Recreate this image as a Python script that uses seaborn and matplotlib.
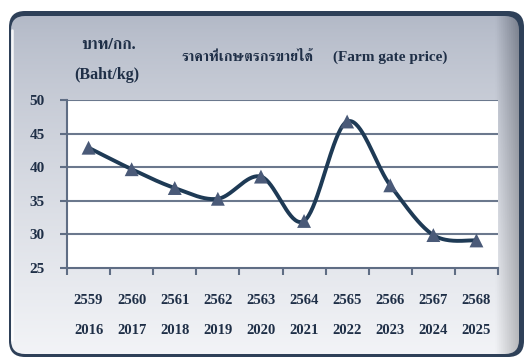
import numpy as np
import pandas as pd
import matplotlib
matplotlib.use("Agg")
import matplotlib.pyplot as plt
from matplotlib import font_manager, ft2font
from matplotlib.patches import FancyBboxPatch
import seaborn as sns

# Farm gate price, Baht per kg
years_be = ["2559", "2560", "2561", "2562", "2563", "2564", "2565", "2566", "2567", "2568"]
years_ce = ["2016", "2017", "2018", "2019", "2020", "2021", "2022", "2023", "2024", "2025"]
price = [42.9, 39.7, 36.9, 35.3, 38.6, 32.0, 46.8, 37.3, 29.9, 29.1]
y_ticks = [25, 30, 35, 40, 45, 50]

title_th = "ราคาที่เกษตรกรขายได้"
title_en = "(Farm gate price)"
unit_th = "บาท/กก."
unit_en = "(Baht/kg)"

df = pd.DataFrame({"idx": np.arange(len(price)), "price": price})

sns.set_theme(style="white")
plt.rcParams["font.family"] = ["Liberation Serif", "DejaVu Serif"]
plt.rcParams["font.weight"] = "bold"


def thai_family():
    # pick an installed family that covers the Thai block, serif-like first
    found = []
    for f in font_manager.fontManager.ttflist:
        try:
            cmap = ft2font.FT2Font(f.fname).get_charmap()
        except Exception:
            continue
        if 0x0E23 in cmap and 0x0E01 in cmap:
            found.append(f.name)
    for key in ("Serif", "Looped", "Noto Sans Thai"):
        for name in found:
            if key in name:
                return name
    return found[0] if found else "DejaVu Sans"


THAI = thai_family()
NAVY = "#1f2f47"

W, H = 526, 363
fig = plt.figure(figsize=(W / 100, H / 100), dpi=100, facecolor="white")

# framed panel behind the chart
bg = fig.add_axes([0, 0, 1, 1], zorder=-2)
bg.set_xlim(0, W)
bg.set_ylim(H, 0)
bg.axis("off")
outer = FancyBboxPatch((9, 11), 515, 346, boxstyle="round,pad=0,rounding_size=16",
                       fc="#2e4058", ec="none")
bg.add_patch(outer)
inner = FancyBboxPatch((11, 16), 508, 338, boxstyle="round,pad=0,rounding_size=14",
                       fc="none", ec="none")
bg.add_patch(inner)
rows = np.linspace(0, 1, 256)[:, None]
cols = np.linspace(0, 1, 256)[None, :]
top = np.array([0.70, 0.725, 0.78])
bot = np.array([0.95, 0.955, 0.968])
grad = top + (bot - top) * (rows ** 0.8)[..., None]
grad = np.broadcast_to(grad, (256, 256, 3)).copy()
# darker shading towards the right rim
shade = np.clip((cols - 0.955) / 0.045, 0, 1)[..., None] * 0.22
grad = np.clip(grad - shade, 0, 1)
img = bg.imshow(grad, extent=(11, 519, 354, 16), aspect="auto", zorder=1)
img.set_clip_path(inner)
# light rim on the left edge
bg.plot([12, 12], [30, 340], color="white", lw=1.8, alpha=0.85, zorder=2)

# chart area
x0, x1, yb, yt = 67, 498, 268, 100
ax = fig.add_axes([x0 / W, 1 - yb / H, (x1 - x0) / W, (yb - yt) / H])
ax.set_facecolor("white")

# smoothed path through the data points (Catmull-Rom)
xs = df["idx"].to_numpy(float)
ys = df["price"].to_numpy(float)
px = np.concatenate([[xs[0]], xs, [xs[-1]]])
py = np.concatenate([[ys[0]], ys, [ys[-1]]])
cx, cy = [], []
t = np.linspace(0, 1, 40)
for i in range(1, len(px) - 2):
    for P, out in ((px, cx), (py, cy)):
        p0, p1, p2, p3 = P[i - 1], P[i], P[i + 1], P[i + 2]
        out.extend(0.5 * ((2 * p1) + (-p0 + p2) * t + (2 * p0 - 5 * p1 + 4 * p2 - p3) * t ** 2
                          + (-p0 + 3 * p1 - 3 * p2 + p3) * t ** 3))
curve = pd.DataFrame({"x": cx, "y": cy})
sns.lineplot(data=curve, x="x", y="y", ax=ax, color="#1e3a55", lw=2.8, sort=False,
             estimator=None, zorder=3)
sns.scatterplot(data=df, x="idx", y="price", ax=ax, marker="^", s=100,
                color="#4a5a78", edgecolor="none", zorder=4)

ax.set_xlim(-0.5, len(price) - 0.5)
ax.set_ylim(25, 50)
ax.set_yticks(y_ticks)
ax.set_yticklabels([str(v) for v in y_ticks], fontsize=11, fontweight="bold", color=NAVY)
ax.set_xticks(np.arange(-0.5, len(price), 1.0))
ax.set_xticklabels([])
ax.tick_params(axis="x", bottom=True, length=5, width=1.5, color="#5f6d84", direction="out")
ax.tick_params(axis="y", left=True, length=5, width=1.5, color="#5f6d84", pad=11)
for v in y_ticks[1:]:
    ax.axhline(v, color="#6b788d", lw=1.5, zorder=1)
for s in ("top", "right"):
    ax.spines[s].set_visible(False)
for s in ("left", "bottom"):
    ax.spines[s].set_color("#5f6d84")
    ax.spines[s].set_linewidth(1.5)
ax.set_xlabel("")
ax.set_ylabel("")

# two rows of year labels under the axis
for i in range(len(price)):
    xp = ax.transData.transform((i, 0))[0]
    fx = xp / W
    fig.text(fx, 1 - 300 / H, years_be[i], ha="center", va="center", fontsize=10.5,
             fontweight="bold", color=NAVY)
    fig.text(fx, 1 - 331 / H, years_ce[i], ha="center", va="center", fontsize=10.5,
             fontweight="bold", color=NAVY)

fig.text(109 / W, 1 - 45 / H, unit_th, ha="center", va="center", fontsize=11.5,
         family=[THAI, "DejaVu Sans"], fontweight="bold", color=NAVY)
fig.text(107 / W, 1 - 75 / H, unit_en, ha="center", va="center", fontsize=11.5,
         fontweight="bold", color=NAVY)
fig.text(313 / W, 1 - 57 / H, title_th, ha="right", va="center", fontsize=10.5,
         family=[THAI, "DejaVu Sans"], fontweight="bold", color=NAVY)
fig.text(333 / W, 1 - 57 / H, title_en, ha="left", va="center", fontsize=11,
         fontweight="bold", color=NAVY)

fig.savefig("out.png", dpi=100, facecolor="white")
